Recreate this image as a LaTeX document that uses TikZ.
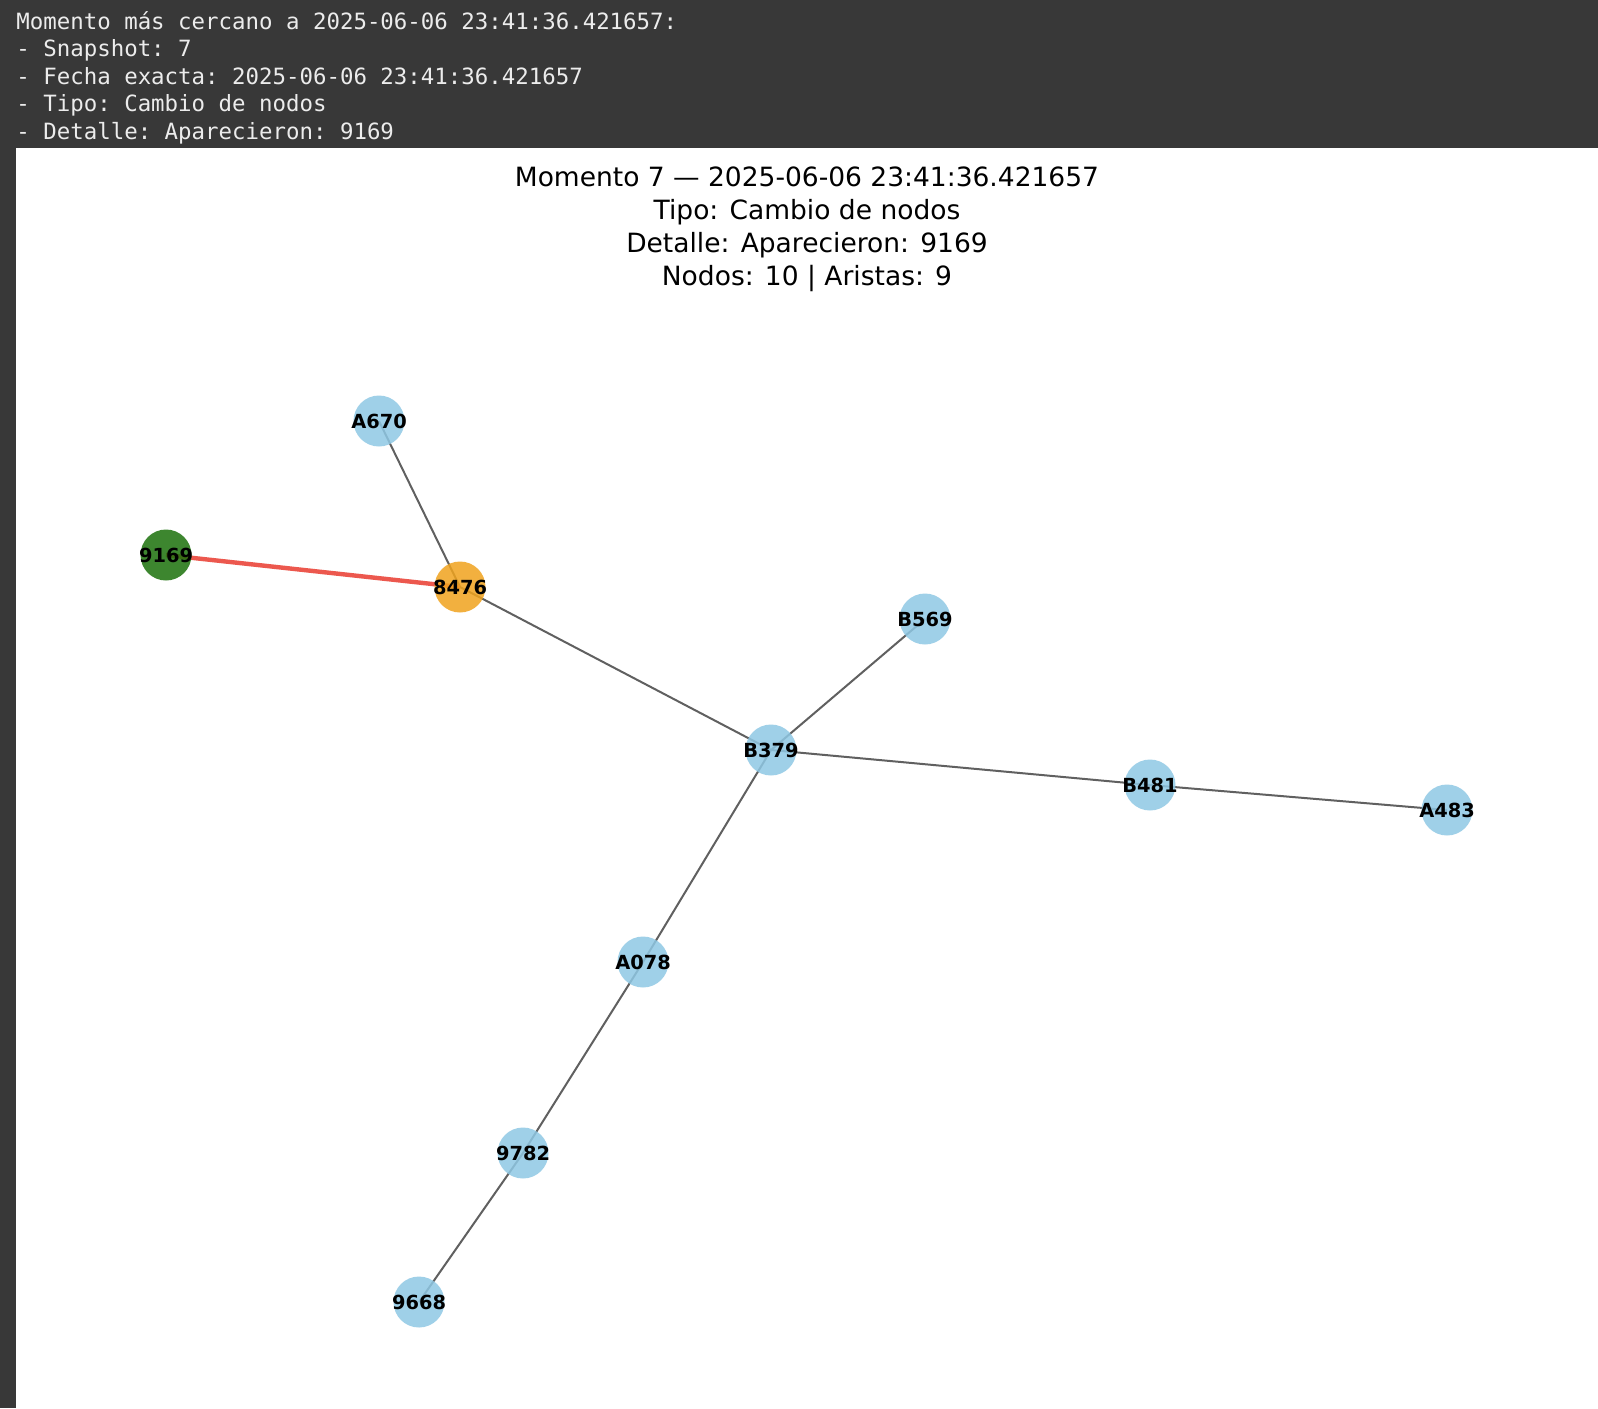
\documentclass[tikz,border=0pt]{standalone}
\usepackage{fontspec}
\setmainfont{DejaVu Sans}
\setmonofont{DejaVu Sans Mono}
\usetikzlibrary{backgrounds}

\pgfdeclarelayer{edges}
\pgfsetlayers{background,edges,main}

\definecolor{panelgray}{RGB}{56,56,56}
\definecolor{headtext}{RGB}{236,236,236}
\definecolor{nodeblue}{RGB}{143,200,228}
\definecolor{nodeorange}{RGB}{240,163,30}
\definecolor{nodegreen}{RGB}{28,113,11}
\definecolor{edgegray}{RGB}{96,96,96}
\definecolor{edgered}{RGB}{236,88,78}

\tikzset{
  vert/.style={circle, minimum size=25.5pt, inner xsep=-7pt, inner ysep=0pt, fill opacity=0.85, text opacity=1,
    font=\fontsize{9.7pt}{11pt}\selectfont\bfseries},
  edg/.style={draw=edgegray, line width=1pt},
  newedg/.style={draw=edgered, line width=2.2pt},
  headline/.style={anchor=base west, inner sep=0pt, text=headtext, font=\ttfamily\fontsize{11.2pt}{13pt}\selectfont},
  titleline/.style={anchor=base, inner sep=0pt, font=\fontsize{13.25pt}{16pt}\selectfont}
}

\begin{document}
\begin{tikzpicture}[x=0.5pt,y=0.5pt,yscale=-1,xscale=1]
    \useasboundingbox (0,0) rectangle (1598,1408);
    %Shape: Rectangle [id:frame]
    \begin{pgfonlayer}{background}
    \fill [white] (0,0) rectangle (1598,1408);
    \fill [panelgray] (0,0) rectangle (16,1408);
    \fill [panelgray] (0,0) rectangle (1598,148);
    \end{pgfonlayer}

    % Text Node
    \node [headline] (h1) at (16,29) {Momento más cercano a 2025-06-06 23:41:36.421657:};
    % Text Node
    \node [headline] (h2) at (16,56.5) {- Snapshot: 7};
    % Text Node
    \node [headline] (h3) at (16,84) {- Fecha exacta: 2025-06-06 23:41:36.421657};
    % Text Node
    \node [headline] (h4) at (16,111.5) {- Tipo: Cambio de nodos};
    % Text Node
    \node [headline] (h5) at (16,139) {- Detalle: Aparecieron: 9169};

    % Text Node
    \node [titleline] (t1) at (807,186) {Momento 7 — 2025-06-06 23:41:36.421657};
    % Text Node
    \node [titleline] (t2) at (807,219) {Tipo: Cambio de nodos};
    % Text Node
    \node [titleline] (t3) at (807,252) {Detalle: Aparecieron: 9169};
    % Text Node
    \node [titleline] (t4) at (807,285) {Nodos: 10 | Aristas: 9};

    %Shape: Circle [id:nodes]
    \node [vert, fill=nodeblue] (A670) at (379,421) {A670};
    \node [vert, fill=nodegreen] (9169) at (166,555) {9169};
    \node [vert, fill=nodeorange] (8476) at (460,587) {8476};
    \node [vert, fill=nodeblue] (B569) at (925,619) {B569};
    \node [vert, fill=nodeblue] (B379) at (771,750) {B379};
    \node [vert, fill=nodeblue] (B481) at (1150,785) {B481};
    \node [vert, fill=nodeblue] (A483) at (1447,810) {A483};
    \node [vert, fill=nodeblue] (A078) at (643,962) {A078};
    \node [vert, fill=nodeblue] (9782) at (523,1153) {9782};
    \node [vert, fill=nodeblue] (9668) at (419,1302) {9668};

    %Straight Lines [id:edges]
    \begin{pgfonlayer}{edges}
    \foreach \a/\b in {A670/8476, 8476/B379, B569/B379, B379/B481, B481/A483, B379/A078, A078/9782, 9782/9668}
      \draw [edg] (\a.center) -- (\b.center);
    \draw [newedg] (9169.center) -- (8476.center);
    \end{pgfonlayer}
\end{tikzpicture}
\end{document}
